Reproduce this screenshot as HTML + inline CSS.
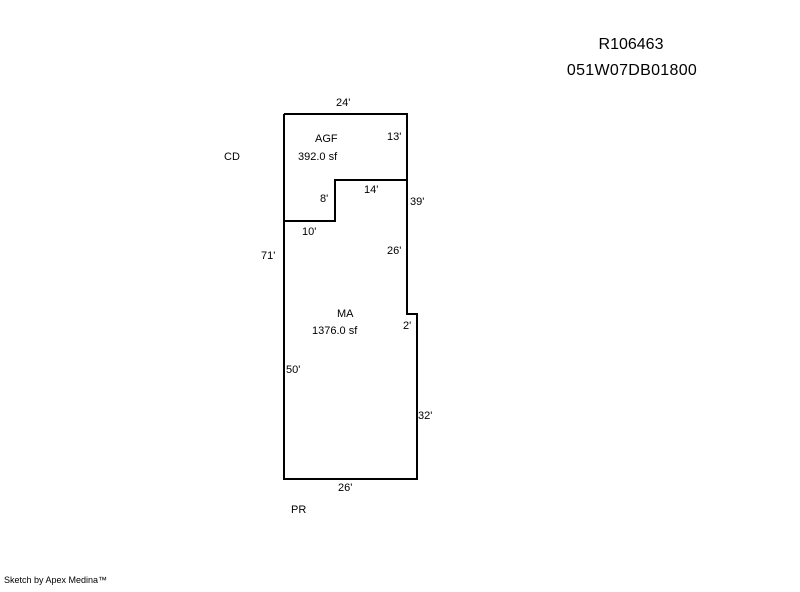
<!DOCTYPE html>
<html><head><style>
body{margin:0;background:#fff;}
svg text{font-family:"Liberation Sans",sans-serif;font-size:11px;fill:#000;}
</style></head><body>
<svg width="800" height="587" xmlns="http://www.w3.org/2000/svg">
<rect width="800" height="587" fill="#fff"/>
<g fill="none" stroke="#000" stroke-width="2">
<polyline points="284,114 407,114 407,314 417,314 417,479 284,479 284,114"/>
<polyline points="284,221 335,221 335,180 407,180"/>
</g>
<text x="631" y="49" text-anchor="middle" style="font-size:16px">R106463</text>
<text x="632" y="75" text-anchor="middle" style="font-size:16px;letter-spacing:0.3px">051W07DB01800</text>
<text x="336" y="106">24'</text>
<text x="387" y="140">13'</text>
<text x="315" y="142">AGF</text>
<text x="298" y="160">392.0 sf</text>
<text x="224" y="160">CD</text>
<text x="364" y="193">14'</text>
<text x="320" y="202">8'</text>
<text x="410" y="205">39'</text>
<text x="302" y="235">10'</text>
<text x="387" y="254">26'</text>
<text x="261" y="259">71'</text>
<text x="337" y="317">MA</text>
<text x="312" y="334">1376.0 sf</text>
<text x="403" y="329">2'</text>
<text x="286" y="373">50'</text>
<text x="418" y="419">32'</text>
<text x="338" y="491">26'</text>
<text x="291" y="513">PR</text>
<text x="4" y="583" style="font-size:9px">Sketch by Apex Medina™</text>
</svg>
</body></html>
